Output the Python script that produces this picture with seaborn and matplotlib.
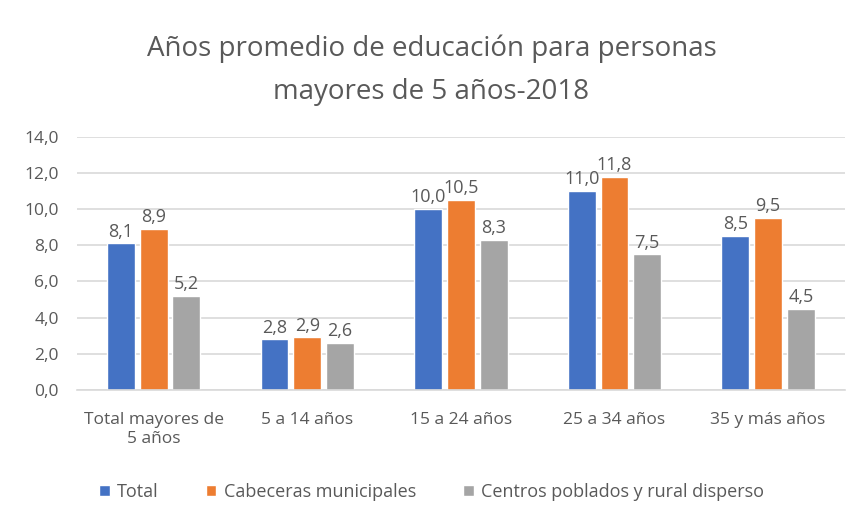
import matplotlib
matplotlib.use("Agg")
import matplotlib.pyplot as plt
import seaborn as sns
import pandas as pd

categories = ["Total mayores de\n5 años", "5 a 14 años", "15 a 24 años", "25 a 34 años", "35 y más años"]
series_names = ["Total", "Cabeceras municipales", "Centros poblados y rural disperso"]
total = [8.1, 2.8, 10.0, 11.0, 8.5]
cabeceras = [8.9, 2.9, 10.5, 11.8, 9.5]
centros = [5.2, 2.6, 8.3, 7.5, 4.5]
colors = ["#4472C4", "#ED7D31", "#A5A5A5"]
title = "Años promedio de educación para personas\nmayores de 5 años-2018"

rows = []
for name, vals in zip(series_names, [total, cabeceras, centros]):
    for c, v in zip(categories, vals):
        rows.append({"cat": c, "serie": name, "val": v})
df = pd.DataFrame(rows)

sns.set_theme(style="white")
plt.rcParams['font.family'] = ['Open Sans', 'DejaVu Sans']
txt = "#595959"

fig = plt.figure(figsize=(8.63, 5.22), dpi=100)
ax = fig.add_axes([0.089, 0.253, 0.89, 0.485])
sns.barplot(data=df, x="cat", y="val", hue="serie", palette=colors,
            width=0.64, gap=0.15, ax=ax, saturation=1)

for cont in ax.containers:
    ax.bar_label(cont, labels=[f"{v:.1f}".replace(".", ",") for v in cont.datavalues],
                 padding=2, color=txt, fontsize=13)

ax.set_ylim(0, 14)
ax.set_yticks(range(0, 15, 2))
ax.set_yticklabels([f"{v:.1f}".replace(".", ",") for v in range(0, 15, 2)], color=txt, fontsize=12.5)
ax.tick_params(axis='x', colors=txt, labelsize=12.5, length=0, pad=16)
ax.tick_params(axis='y', length=0, pad=13)
ax.set_xlabel("")
ax.set_ylabel("")
ax.grid(axis='y', color="#D9D9D9", linewidth=1.2)
ax.set_axisbelow(True)
for s in ["top", "right", "left"]:
    ax.spines[s].set_visible(False)
ax.spines["bottom"].set_color("#D9D9D9")
ax.spines["bottom"].set_linewidth(1.2)
ax.set_xlim(-0.5, 4.5)

fig.text(0.5, 0.865, title, ha="center", va="center", fontsize=20, color=txt, linespacing=1.7)

h, l = ax.get_legend_handles_labels()
ax.legend_.remove()
fig.legend(h, l, loc="center", bbox_to_anchor=(0.5, 0.058), ncol=3, frameon=False,
           fontsize=13, labelcolor=txt, handlelength=0.6, handleheight=0.6,
           columnspacing=2.6, handletextpad=0.4)

fig.savefig("out.png", dpi=100)
